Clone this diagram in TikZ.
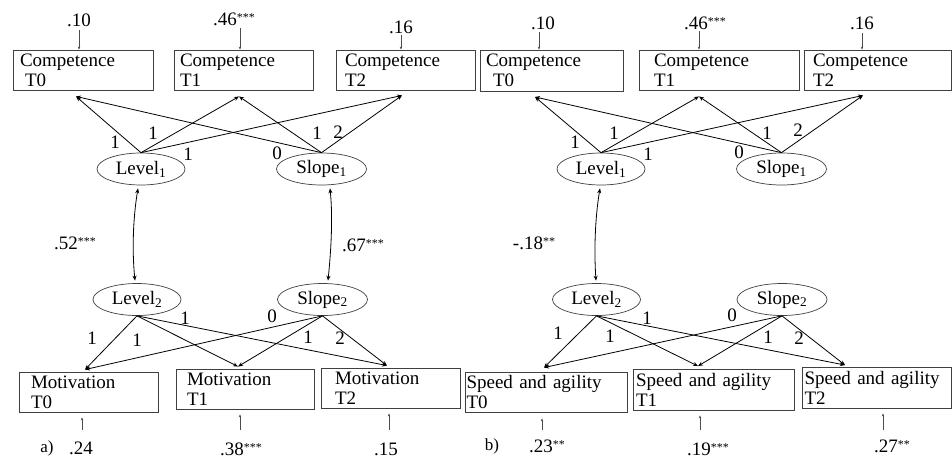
\documentclass[tikz,border=0pt]{standalone}
\usepackage{fontspec}
\setmainfont{Liberation Serif}
\usetikzlibrary{arrows.meta,shapes.geometric}
\newcommand\stars[1]{\raisebox{3.5pt}{\fontsize{12}{12}\selectfont #1}}
\begin{document}
\begin{tikzpicture}[x=1pt,y=-1pt,
  every node/.style={font=\fontsize{19}{20}\selectfont},
  obs/.style={draw=black!75, line width=0.9pt, rectangle, minimum height=40pt,
    align=left, inner ysep=0pt},
  lat/.style={draw=black!75, line width=0.7pt, ellipse, minimum width=88pt,
    minimum height=32pt, inner sep=0pt},
  load/.style={line width=0.8pt, -{Stealth[length=5pt,width=4pt]}},
  cov/.style={line width=0.8pt, {Stealth[length=5pt,width=4pt]}-{Stealth[length=5pt,width=4pt]}},
  res/.style={line width=0.4pt, draw=black!70, -{Stealth[length=3pt,width=2.5pt]}},
  wt/.style={inner sep=0pt},
  num/.style={inner sep=0pt},
]
\useasboundingbox (0,0) rectangle (952,459);

%% ---------------- Panel a: competence and motivation ----------------
\node[obs, inner xsep=7pt,  text width=126pt] (ca0) at (83,70)    {Competence\\\hspace*{5pt}T0};
\node[obs, inner xsep=6pt,  text width=127pt] (ca1) at (243.5,70) {Competence\\T1};
\node[obs, inner xsep=9pt,  text width=121pt] (ca2) at (405.5,70) {Competence\\T2};

\node[lat] (La1) at (141,169)   {Level\textsubscript{1}};
\node[lat, minimum width=90pt] (Sa1) at (321.5,169) {Slope\textsubscript{1}};
\node[lat] (La2) at (137,299.5) {Level\textsubscript{2}};
\node[lat, minimum width=90pt] (Sa2) at (322.5,299.5) {Slope\textsubscript{2}};

\node[obs, inner xsep=12pt, text width=115pt] (ma0) at (88.5,392) {Motivation\\T0};
\node[obs, inner xsep=11pt, text width=116pt] (ma1) at (245,389)  {Motivation\\T1};
\node[obs, inner xsep=14pt, text width=111pt] (ma2) at (390.5,388) {Motivation\\T2};

% arrow targets on the indicator boxes
\coordinate (ca0in) at ([xshift=-7pt,yshift=-6pt]ca0.south);
\coordinate (ca1in) at ([xshift=-4.5pt,yshift=-6pt]ca1.south);
\coordinate (ca2in) at ([xshift=-3.5pt,yshift=-5pt]ca2.south);
\coordinate (ma0in) at ([xshift=-3.5pt,yshift=2pt]ma0.north);
\coordinate (ma1in) at ([xshift=-7pt,yshift=2pt]ma1.north);
\coordinate (ma2in) at ([xshift=-3.5pt,yshift=2pt]ma2.north);

\foreach \t in {ca0in,ca1in,ca2in} {
  \draw[load] (La1.north) -- (\t);
  \draw[load] (Sa1.north) -- (\t);
}
\foreach \t in {ma0in,ma1in,ma2in} {
  \draw[load] (La2.south) -- (\t);
  \draw[load] (Sa2.south) -- (\t);
}

% factor loadings
\node[wt] (wa1) at (115,142) {1};
\node[wt] (wa2) at (153,133) {1};
\node[wt] (wa3) at (188,154) {1};
\node[wt] (wa4) at (277,153) {0};
\node[wt] (wa5) at (317,133) {1};
\node[wt] (wa6) at (338,132) {2};
\node[wt] (wa7) at (92,338)  {1};
\node[wt] (wa8) at (137,340) {1};
\node[wt] (wa9) at (185,318) {1};
\node[wt] (wa10) at (272,316) {0};
\node[wt] (wa11) at (308,337) {1};
\node[wt] (wa12) at (340,338) {2};

% covariances between growth factors
\draw[cov] ([xshift=-3pt,yshift=-3pt]La1.south) .. controls +(-5,30) and +(-3,-30) .. ([xshift=-2pt,yshift=2.5pt]La2.north);
\draw[cov] ([xshift=8.5pt,yshift=-3pt]Sa1.south) .. controls +(3,30) and +(3,-30) .. ([xshift=5.5pt,yshift=2.5pt]Sa2.north);
\node[num] (cva1) at (75,243)  {.52\stars{***}};
\node[num] (cva2) at (363,245) {.67\stars{***}};

% residual variances
\node[num] (ra0) at (79,20)  {.10};
\node[num] (ra1) at (234,19) {.46\stars{***}};
\node[num] (ra2) at (401,27) {.16};
\coordinate (ta0) at (79,30);
\coordinate (ta1) at (240,28);
\coordinate (ta2) at (401,35);
\draw[res] (ta0) -- (ta0 |- ca0.north);
\draw[res] (ta1) -- (ta1 |- ca1.north);
\draw[res] (ta2) -- (ta2 |- ca2.north);

\node[num] (ea0) at (81,448)  {.24};
\node[num] (ea1) at (241,449) {.38\stars{***}};
\node[num] (ea2) at (386,449) {.15};
\coordinate (ba0) at (82,430);
\coordinate (ba1) at (240,430);
\coordinate (ba2) at (389,430);
\draw[res, shorten >=5pt] (ba0) -- (ba0 |- ma0.south);
\draw[res, shorten >=5pt] (ba1) -- (ba1 |- ma1.south);
\draw[res, shorten >=5pt] (ba2) -- (ba2 |- ma2.south);

\node[num, font=\fontsize{17}{17}\selectfont] (pa) at (47,448) {a)};

%% ---------------- Panel b: competence and speed/agility ----------------
\node[obs, inner xsep=6pt,  text width=131pt, minimum height=41pt] (cb0) at (551.5,70.5) {Competence\\\hspace*{7pt}T0};
\node[obs, inner xsep=15pt, text width=130pt] (cb1) at (719,70)   {Competence\\T1};
\node[obs, inner xsep=9pt,  text width=129pt] (cb2) at (877.5,70) {Competence\\T2};

\node[lat] (Lb1) at (601,169)   {Level\textsubscript{1}};
\node[lat, minimum width=90pt] (Sb1) at (781.5,169) {Slope\textsubscript{1}};
\node[lat] (Lb2) at (596.5,299.5) {Level\textsubscript{2}};
\node[lat, minimum width=90pt] (Sb2) at (782,299.5) {Slope\textsubscript{2}};

\node[obs, inner xsep=1.5pt, text width=159pt] (sb0) at (546,392)     {Speed and agility\\T0};
\node[obs, inner xsep=3pt,   text width=155pt, minimum height=41pt] (sb1) at (713.5,389.5) {Speed and agility\\T1};
\node[obs, inner xsep=2.5pt, text width=144pt, minimum height=41pt] (sb2) at (876.5,387.5) {Speed and agility\\T2};

\coordinate (cb0in) at ([xshift=-16.5pt,yshift=-5.5pt]cb0.south);
\coordinate (cb1in) at ([xshift=-20pt,yshift=-6pt]cb1.south);
\coordinate (cb2in) at ([xshift=-14.5pt,yshift=-5pt]cb2.south);
\coordinate (sb0in) at ([xshift=-2pt,yshift=4pt]sb0.north);
\coordinate (sb1in) at ([xshift=-15.5pt,yshift=2.5pt]sb1.north);
\coordinate (sb2in) at ([xshift=-31.5pt,yshift=1.5pt]sb2.north);

\foreach \t in {cb0in,cb1in,cb2in} {
  \draw[load] (Lb1.north) -- (\t);
  \draw[load] (Sb1.north) -- (\t);
}
\foreach \t in {sb0in,sb1in,sb2in} {
  \draw[load] (Lb2.south) -- (\t);
  \draw[load] (Sb2.south) -- (\t);
}

\node[wt] (wb1) at (575,142) {1};
\node[wt] (wb2) at (614,133) {1};
\node[wt] (wb3) at (648,154) {1};
\node[wt] (wb4) at (739,152) {0};
\node[wt] (wb5) at (767,133) {1};
\node[wt] (wb6) at (798,130) {2};
\node[wt] (wb7) at (558,333) {1};
\node[wt] (wb8) at (610,336) {1};
\node[wt] (wb9) at (647,318) {1};
\node[wt] (wb10) at (732,315) {0};
\node[wt] (wb11) at (768,337) {1};
\node[wt] (wb12) at (799,338) {2};

\draw[cov] ([xshift=-1pt,yshift=-3pt]Lb1.south) .. controls +(-5,30) and +(-2,-30) .. ([xshift=-0.5pt,yshift=2.5pt]Lb2.north);
\node[num] (cvb1) at (534,243) {-.18\stars{**}};

\node[num] (rb0) at (543,23) {.10};
\node[num] (rb1) at (705,23) {.46\stars{***}};
\node[num] (rb2) at (862,23) {.16};
\coordinate (tb0) at (539,32);
\coordinate (tb1) at (699,31);
\coordinate (tb2) at (862,33);
\draw[res] (tb0) -- (tb0 |- cb0.north);
\draw[res] (tb1) -- (tb1 |- cb1.north);
\draw[res] (tb2) -- (tb2 |- cb2.north);

\node[num] (eb0) at (547,446) {.23\stars{**}};
\node[num] (eb1) at (708,449) {.19\stars{***}};
\node[num] (eb2) at (892,446) {.27\stars{**}};
\coordinate (bb0) at (542,430);
\coordinate (bb1) at (700,430);
\coordinate (bb2) at (883,430);
\draw[res, shorten >=6pt] (bb0) -- (bb0 |- sb0.south);
\draw[res, shorten >=5pt] (bb1) -- (bb1 |- sb1.south);
\draw[res, shorten >=5pt] (bb2) -- (bb2 |- sb2.south);

\node[num, font=\fontsize{17}{17}\selectfont] (pb) at (492,446) {b)};
\end{tikzpicture}
\end{document}
